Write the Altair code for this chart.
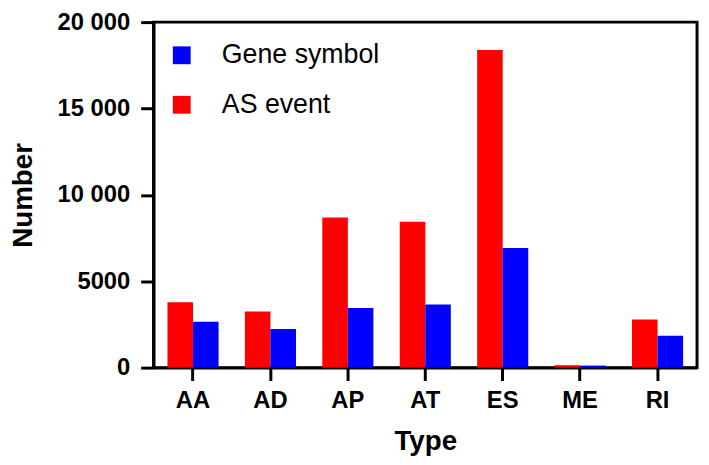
import altair as alt
import pandas as pd

categories = ["AA", "AD", "AP", "AT", "ES", "ME", "RI"]
as_event = [3780, 3245, 8690, 8450, 18380, 140, 2780]
gene_symbol = [2650, 2240, 3450, 3650, 6930, 120, 1850]
series_names = ["Gene symbol", "AS event"]
series_colors = ["#0000ff", "#ff0000"]
y_ticks = [0, 5000, 10000, 15000, 20000]

rows = []
for c, a, g in zip(categories, as_event, gene_symbol):
    rows.append({"Type": c, "Series": "AS event", "Number": a})
    rows.append({"Type": c, "Series": "Gene symbol", "Number": g})
df = pd.DataFrame(rows)

FONT = "Liberation Sans"

chart = alt.Chart(df).mark_bar(opacity=1).encode(
    x=alt.X(
        "Type:N",
        sort=categories,
        scale=alt.Scale(paddingInner=0.34, paddingOuter=0.18),
        axis=alt.Axis(
            title="Type", labelAngle=0, labelFontSize=24, labelFontWeight="bold",
            labelFont=FONT, labelColor="black", labelPadding=8,
            tickSize=13, tickWidth=3, tickColor="black",
            domainWidth=3, domainColor="black",
            titleFontSize=28, titleFontWeight="bold", titleFont=FONT,
            titleColor="black", titlePadding=16,
        ),
    ),
    xOffset=alt.XOffset(
        "Series:N",
        scale=alt.Scale(domain=["AS event", "Gene symbol"], paddingInner=0, paddingOuter=0),
    ),
    y=alt.Y(
        "Number:Q",
        scale=alt.Scale(domain=[0, 20000], nice=False),
        axis=alt.Axis(
            title="Number", values=y_ticks, grid=False,
            labelExpr="datum.value >= 10000 ? replace(format(datum.value, ','), ',', ' ') : format(datum.value, 'd')",
            labelFontSize=24, labelFontWeight="bold", labelFont=FONT,
            labelColor="black", labelPadding=11,
            tickSize=13, tickWidth=3, tickColor="black",
            domainWidth=3, domainColor="black",
            titleFontSize=28, titleFontWeight="bold", titleFont=FONT,
            titleColor="black", titlePadding=20,
        ),
    ),
    color=alt.Color(
        "Series:N",
        scale=alt.Scale(domain=series_names, range=series_colors),
        legend=alt.Legend(
            title=None, orient="none", legendX=15, legendY=20, padding=0,
            symbolType="square", symbolSize=324, symbolStrokeWidth=0,
            symbolOpacity=1,
            labelFontSize=27, labelFont=FONT, labelColor="black",
            labelOffset=27, rowPadding=22,
        ),
    ),
).properties(
    width=549,
    height=349,
    autosize=alt.AutoSizeParams(type="none"),
    padding={"left": 147, "top": 12, "right": 4, "bottom": 88},
).configure_view(
    stroke="black", strokeWidth=3
)

chart.save("out.html", embed_options={"renderer": "svg", "actions": False})
